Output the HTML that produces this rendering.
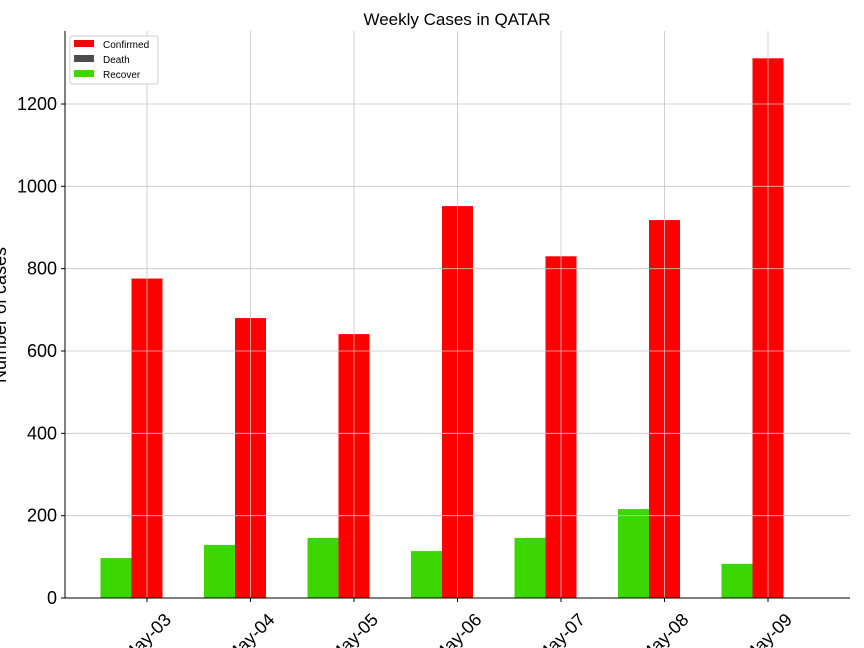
<!DOCTYPE html>
<html><head><meta charset="utf-8"><style>body{margin:0;background:#fff}svg{display:block;font-family:"Liberation Sans","DejaVu Sans",sans-serif}</style></head>
<body>
<svg id="chart" width="864" height="648" viewBox="0 0 864 648" xmlns="http://www.w3.org/2000/svg">
<rect width="864" height="648" fill="#fff"/>
<text x="457" y="25" font-size="17" text-anchor="middle">Weekly Cases in QATAR</text>
<g id="bars"></g><g id="grid"></g><g id="axes"></g>
<text transform="translate(6,315) rotate(-90)" font-size="18" text-anchor="middle">Number of cases</text>
<g>
<rect x="70" y="36" width="88" height="48" fill="#fff" stroke="#ccc" rx="2"/>
<rect x="74" y="40" width="20" height="7" fill="#ff0000"/>
<text x="103" y="48" font-size="10">Confirmed</text>
<rect x="74" y="55" width="20" height="7" fill="#4d4d4d"/>
<text x="103" y="63" font-size="10">Death</text>
<rect x="74" y="70" width="20" height="7" fill="#3cd600"/>
<text x="103" y="78" font-size="10">Recover</text>
</g>
</svg>
<script>
const categories=["May-03","May-04","May-05","May-06","May-07","May-08","May-09"];
const confirmed=[776,680,641,952,830,918,1311];
const deaths=[0,0,0,0,0,0,0];
const recovered=[97,129,146,114,146,216,83];
const yTicks=[0,200,400,600,800,1000,1200];
const NS="http://www.w3.org/2000/svg";
const L=65,R=850,T=31,B=598;
const x0=147,step=103.5,bw=31;
function xs(i){return x0+i*step;}
function ys(v){return B-v*(494/1200);}
function mk(tag,attrs,parent){const e=document.createElementNS(NS,tag);for(const k in attrs)e.setAttribute(k,attrs[k]);parent.appendChild(e);return e;}
const bars=document.getElementById('bars'),grid=document.getElementById('grid'),axes=document.getElementById('axes');
const series=[[recovered,-1,"#3cd600","recover"],[confirmed,0,"#ff0000","confirmed"],[deaths,1,"#4d4d4d","death"]];
series.forEach(s=>{s[0].forEach((v,i)=>{const cx=xs(i)+s[1]*bw;const y=ys(v);
const r=mk('rect',{x:cx-bw/2,y:y,width:bw,height:B-y,fill:s[2]},bars);

});});
yTicks.forEach(t=>{const y=ys(t);
const g=mk('line',{x1:L,x2:R,y1:y,y2:y,stroke:"#c4c4c4","stroke-width":0.8},grid);

mk('line',{x1:L-4,x2:L,y1:y,y2:y,stroke:"#000"},axes);
const tx=mk('text',{x:L-8,y:y+6,"font-size":18,"text-anchor":"end"},axes);tx.textContent=t;
});
categories.forEach((c,i)=>{const x=xs(i);
const g=mk('line',{x1:x,x2:x,y1:T,y2:B,stroke:"#c4c4c4","stroke-width":0.8},grid);

mk('line',{x1:x,x2:x,y1:B,y2:B+4,stroke:"#000"},axes);
const tx=mk('text',{x:0,y:0,"font-size":18,"text-anchor":"middle",transform:`translate(${x+4},${B+44}) rotate(-45)`},axes);tx.textContent=c;
});
const a1=mk('line',{x1:L,x2:L,y1:T,y2:B,stroke:"#000","stroke-width":1},axes);

const a2=mk('line',{x1:L,x2:R,y1:B,y2:B,stroke:"#000","stroke-width":1},axes);

</script>
</body></html>
